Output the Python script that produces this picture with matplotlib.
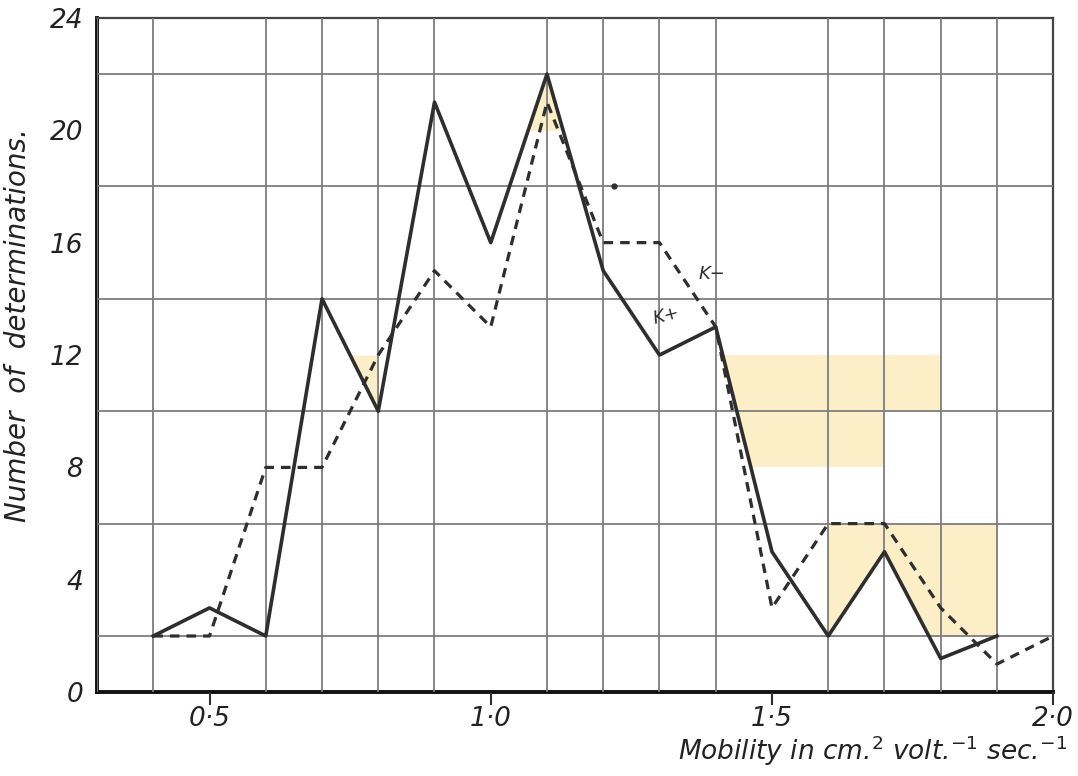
import numpy as np
import matplotlib.pyplot as plt
from matplotlib.patches import Polygon, Rectangle

# data
mobility_pos = np.array([0.4, 0.5, 0.6, 0.7, 0.8, 0.9, 1.0, 1.1, 1.2, 1.3, 1.4, 1.5, 1.6, 1.7, 1.8, 1.9])
k_plus = np.array([2, 3, 2, 14, 10, 21, 16, 22, 15, 12, 13, 5, 2, 5, 1.2, 2])
mobility_neg = np.array([0.4, 0.5, 0.6, 0.7, 0.8, 0.9, 1.0, 1.1, 1.2, 1.3, 1.4, 1.5, 1.6, 1.7, 1.8, 1.9, 2.0])
k_minus = np.array([2, 2, 8, 8, 12, 15, 13, 21, 16, 16, 13, 3, 6, 6, 3, 1, 2])

x_ticks = [0.5, 1.0, 1.5, 2.0]
x_labels = ['0\u00b75', '1\u00b70', '1\u00b75', '2\u00b70']
y_ticks = [0, 4, 8, 12, 16, 20, 24]

# yellowed cells of the paper
upper_patch = [(1.4, 8), (1.7, 8), (1.7, 10), (1.8, 10), (1.8, 12), (1.4, 12)]
lower_patch = (1.6, 2, 0.3, 4)   # x, y, width, height
stray_dot = (1.22, 18)

ink = '#2e2e2e'
grid_c = '#7d7d7d'
shade = '#fcefc8'

fig = plt.figure(figsize=(10.78, 7.76), dpi=100)
ax = fig.add_axes([0.09, 0.108, 0.887, 0.869])

ax.set_xlim(0.3, 2.0)
ax.set_ylim(0, 24)

# shading
f1 = ax.fill_between(mobility_pos, k_plus, 12, where=(mobility_pos >= 1.4) & (mobility_pos <= 1.8),
                     color=shade, lw=0, zorder=1)
f1.set_clip_path(Polygon(upper_patch, transform=ax.transData))
f2 = ax.fill_between(mobility_pos, k_plus, 6, where=(mobility_pos >= 1.6) & (mobility_pos <= 1.9),
                     color=shade, lw=0, zorder=1)
f2.set_clip_path(Rectangle(lower_patch[:2], lower_patch[2], lower_patch[3], transform=ax.transData))
peak = (k_plus >= 20) & np.isclose(mobility_pos, 1.1)
ax.fill_between(mobility_pos, 20, k_plus, where=peak, interpolate=True, color=shade, lw=0, zorder=1)
sl = slice(3, 5)
ax.fill_between(mobility_pos[sl], k_plus[sl], 12, where=k_plus[sl] <= 12, interpolate=True,
                color=shade, lw=0, zorder=1)

# grid
ax.set_xticks(np.arange(0.3, 2.01, 0.1), minor=True)
ax.set_yticks(np.arange(0, 24.1, 2), minor=True)
ax.grid(which='minor', color=grid_c, lw=1.3, zorder=2)
ax.set_axisbelow(False)

ax.set_xticks(x_ticks)
ax.set_xticklabels(x_labels)
ax.set_yticks(y_ticks)
ax.tick_params(axis='x', which='major', length=9, width=1.5, color=ink, direction='out',
               labelsize=19, pad=1)
ax.tick_params(axis='y', which='major', length=0, labelsize=19, pad=10)
ax.tick_params(which='minor', length=0)
for lab in ax.get_xticklabels() + ax.get_yticklabels():
    lab.set_fontstyle('italic')
    lab.set_color('#222222')

for side in ['left', 'bottom']:
    ax.spines[side].set_linewidth(2.8)
    ax.spines[side].set_color('#111111')
for side in ['top', 'right']:
    ax.spines[side].set_linewidth(1.6)
    ax.spines[side].set_color('#444444')

# curves
ax.plot(mobility_pos, k_plus, color=ink, lw=2.6, zorder=4)
ax.plot(mobility_neg, k_minus, color=ink, lw=2.3, ls=(0, (3, 2.2)), zorder=4)
ax.plot(*stray_dot, 'o', color=ink, ms=3.5, zorder=4)

ax.text(1.285, 13.1, 'K+', fontsize=13, style='italic', color=ink, rotation=15, zorder=5)
ax.text(1.37, 14.7, 'K\u2212', fontsize=13, style='italic', color=ink, zorder=5)

ax.set_ylabel('Number  of  determinations.', fontsize=20, style='italic', color='#222222')
ax.yaxis.set_label_coords(-0.068, 0.545)
fig.text(0.99, 0.01, 'Mobility in cm.$^2$ volt.$^{-1}$ sec.$^{-1}$', fontsize=19, style='italic',
         ha='right', va='bottom', color='#222222')

fig.savefig('out.png', dpi=100)
